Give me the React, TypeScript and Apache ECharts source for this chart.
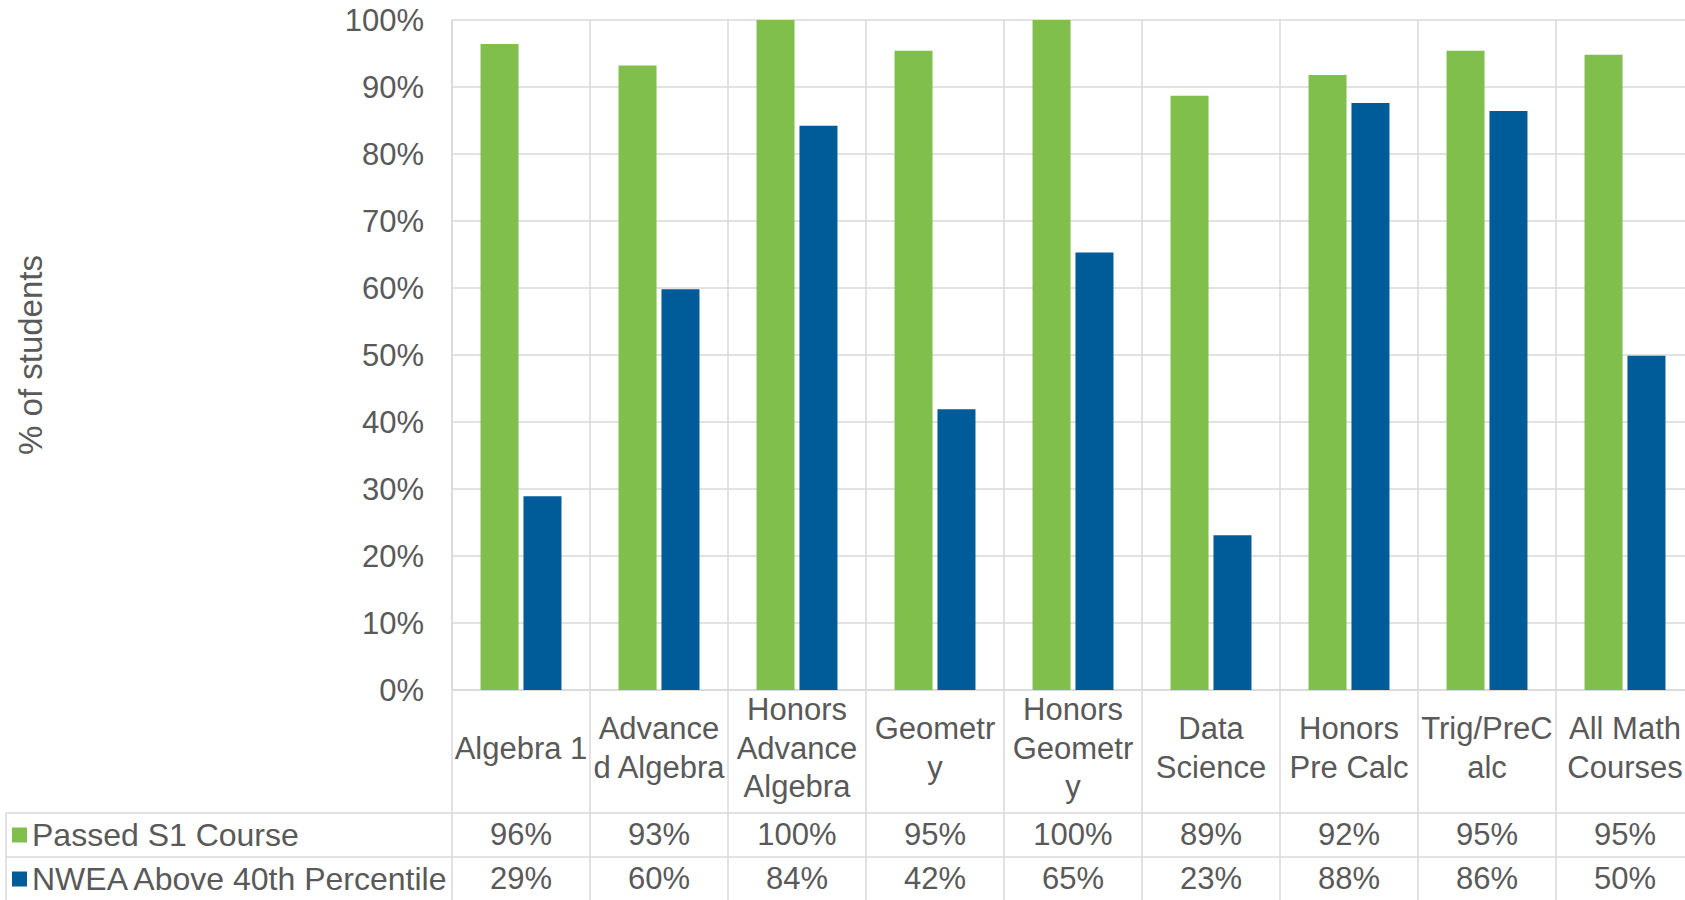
import React, { useEffect, useRef } from "react";
import * as echarts from "echarts";

const categoryLabels = [
  "Algebra 1",
  "Advance\nd Algebra",
  "Honors\nAdvance\nAlgebra",
  "Geometr\ny",
  "Honors\nGeometr\ny",
  "Data\nScience",
  "Honors\nPre Calc",
  "Trig/PreC\nalc",
  "All Math\nCourses",
];
const seriesNames = ["Passed S1 Course", "NWEA Above 40th Percentile"];
const passedS1 = [96.4, 93.2, 100, 95.4, 100, 88.7, 91.8, 95.4, 94.8];
const nweaAbove40 = [28.9, 59.8, 84.2, 41.9, 65.3, 23.1, 87.6, 86.4, 49.9];
const yTicks = { min: 0, max: 100, interval: 10 };

const GREEN = "#80BF4B";
const BLUE = "#005C99";
const TEXT = "#595959";
const LINE = "#D9D9D9";
const FONT = "'Liberation Sans', Arial, sans-serif";

const pct = (v: number) => `${Math.round(v)}%`;

export default function App() {
  const ref = useRef<HTMLDivElement>(null);

  useEffect(() => {
    if (!ref.current) return;
    const chart = echarts.init(ref.current, undefined, { renderer: "svg" });

    const tableAxis = (data: string[], offset: number) => ({
      type: "category",
      gridIndex: 0,
      position: "bottom",
      offset,
      data,
      axisLine: { show: true, lineStyle: { color: LINE, width: 1.5 } },
      axisTick: { show: false },
      splitLine: { show: false },
      axisLabel: {
        interval: 0,
        margin: 21,
        verticalAlign: "middle",
        fontSize: 31,
        color: TEXT,
        fontFamily: FONT,
      },
    });

    chart.setOption({
      animation: false,
      backgroundColor: "#ffffff",
      textStyle: { fontFamily: FONT },
      grid: {
        left: 452,
        top: 20,
        width: 1242,
        height: 670,
        containLabel: false,
        outerBoundsMode: "none",
      },
      legend: {
        data: seriesNames,
        orient: "vertical",
        left: 12,
        top: 819,
        padding: 0,
        itemWidth: 15,
        itemHeight: 15,
        itemGap: 12,
        icon: "rect",
        textStyle: { fontSize: 32, color: TEXT, fontFamily: FONT },
      },
      xAxis: [
        {
          type: "category",
          data: categoryLabels,
          position: "bottom",
          axisLine: { show: true, lineStyle: { color: LINE, width: 1.5 } },
          axisTick: {
            show: true,
            alignWithLabel: false,
            length: 210,
            lineStyle: { color: LINE, width: 1.5 },
          },
          splitLine: { show: true, lineStyle: { color: LINE, width: 1.5 } },
          axisLabel: {
            interval: 0,
            margin: 58,
            verticalAlign: "middle",
            lineHeight: 38.5,
            fontSize: 31,
            color: TEXT,
            fontFamily: FONT,
          },
        },
        tableAxis(passedS1.map(pct), 123),
        tableAxis(nweaAbove40.map(pct), 167),
      ],
      yAxis: {
        type: "value",
        min: yTicks.min,
        max: yTicks.max,
        interval: yTicks.interval,
        name: "% of students",
        nameLocation: "middle",
        nameGap: 405,
        nameTextStyle: { fontSize: 33, color: TEXT, fontFamily: FONT },
        axisLine: { show: true, lineStyle: { color: LINE, width: 1.5 } },
        axisTick: { show: false },
        splitLine: { show: true, lineStyle: { color: LINE, width: 1.5 } },
        axisLabel: {
          formatter: "{value}%",
          margin: 28,
          fontSize: 31,
          color: TEXT,
          fontFamily: FONT,
        },
      },
      graphic: [
        { type: "line", shape: { x1: 6, y1: 813, x2: 452, y2: 813 }, style: { stroke: LINE, lineWidth: 1.5 } },
        { type: "line", shape: { x1: 6, y1: 857, x2: 452, y2: 857 }, style: { stroke: LINE, lineWidth: 1.5 } },
        { type: "line", shape: { x1: 6, y1: 813, x2: 6, y2: 900 }, style: { stroke: LINE, lineWidth: 1.5 } },
      ],
      series: [
        {
          name: seriesNames[0],
          type: "bar",
          xAxisIndex: 0,
          data: passedS1,
          barWidth: 38,
          barGap: "13%",
          itemStyle: { color: GREEN },
        },
        {
          name: seriesNames[1],
          type: "bar",
          xAxisIndex: 0,
          data: nweaAbove40,
          barWidth: 38,
          barGap: "13%",
          itemStyle: { color: BLUE },
        },
      ],
    });

    return () => chart.dispose();
  }, []);

  return (
    <div
      ref={ref}
      style={{ position: "absolute", left: 0, top: 0, width: 1685, height: 900 }}
    />
  );
}
